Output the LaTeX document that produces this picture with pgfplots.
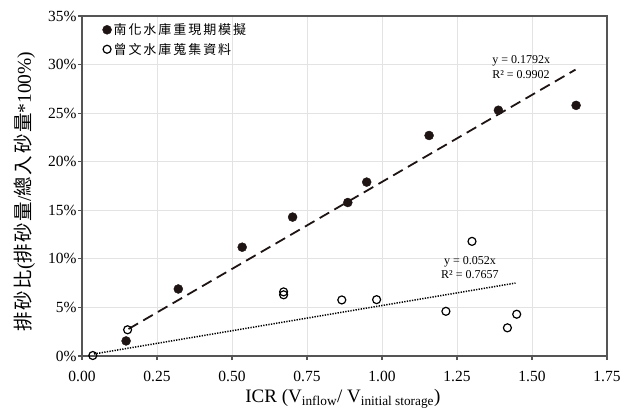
\documentclass[border=0pt]{standalone}
\usepackage{fontspec}
\setmainfont{Liberation Serif}
\newfontfamily\cjk[LetterSpace=8]{Noto Sans CJK TC}
\newfontfamily\cjkls[LetterSpace=15]{Noto Sans CJK TC}
\usepackage{pgfplots}
\pgfplotsset{compat=1.18}
\definecolor{framec}{HTML}{555555}
\definecolor{gridc}{HTML}{E3E3E3}
\definecolor{markc}{HTML}{1E1414}
\begin{document}
\begin{tikzpicture}
\begin{axis}[
  scale only axis, width=525bp, height=340bp,
  xmin=0, xmax=1.75, ymin=0, ymax=35,
  xtick={0,0.25,0.5,0.75,1,1.25,1.5,1.75},
  ytick={0,5,10,15,20,25,30,35},
  grid=major, major grid style={gridc, line width=0.8bp},
  axis line style={framec, line width=1.6bp},
  tick style={framec, line width=1.2bp},
  tick align=outside, major tick length=4bp,
  xtick pos=bottom, ytick pos=left,
  /pgf/number format/assume math mode=true,
  x tick label style={/pgf/number format/.cd, fixed, fixed zerofill, precision=2, assume math mode=true, /tikz/.cd, yshift=-8bp},
  y tick label style={xshift=2bp},
  yticklabel={\pgfmathprintnumber{\tick}\%},
  ticklabel style={font=\fontsize{15.5bp}{18bp}\selectfont},
  xlabel={ICR (V\textsubscript{inflow}/ V\textsubscript{initial storage})},
  xlabel style={font=\fontsize{19bp}{22bp}\selectfont, at={(axis description cs:0.497,-0.125)}, anchor=center},
  ylabel={{\cjk 排砂比}({\cjk 排砂量}/{\cjk 總入砂量}*100\%)},
  ylabel style={font=\fontsize{19.5bp}{22bp}\selectfont, at={(axis description cs:-0.109,0.484)}, anchor=center},
  legend style={at={(axis description cs:0.035,0.99)}, anchor=north west, draw=none, fill=none,
    font=\cjkls\fontsize{13bp}{15bp}\selectfont, row sep=3bp, inner sep=2bp},
  legend cell align=left,
  clip=false,
]
\addplot[markc, line width=1.8bp, dash pattern=on 11bp off 6bp, forget plot] coordinates {(0.155,2.78) (1.645,29.48)};
\addplot[black, line width=1.5bp, dash pattern=on 1.3bp off 1.3bp, forget plot] coordinates {(0.04,0.21) (1.445,7.51)};
\addplot[only marks, mark=*, mark size=4.5bp, color=markc,
  legend image code/.code={\draw[mark repeat=2,mark phase=2] plot coordinates {(0cm,0cm)(0.1cm,0cm)(0.2cm,0cm)};}]
coordinates {(0.147,1.55) (0.321,6.9) (0.534,11.2) (0.702,14.3) (0.886,15.8) (0.949,17.9) (1.157,22.7) (1.388,25.3) (1.647,25.8)};
\addlegendentry{南化水庫重現期模擬}
\addplot[only marks, mark=o, mark size=4bp, color=black, mark options={fill=white, line width=1.2bp},
  legend image code/.code={\draw[mark repeat=2,mark phase=2] plot coordinates {(0cm,0cm)(0.1cm,0cm)(0.2cm,0cm)};}]
coordinates {(0.036,0.05) (0.152,2.7) (0.672,6.6) (0.672,6.3) (0.866,5.77) (0.982,5.8) (1.213,4.6) (1.30,11.8) (1.418,2.9) (1.449,4.3)};
\addlegendentry{曾文水庫蒐集資料}
\node[anchor=north west, align=left, inner sep=0pt, font=\fontsize{12bp}{15bp}\selectfont] at (axis cs:1.367,31.0) {y = 0.1792x\\R² = 0.9902};
\node[anchor=north, align=center, inner sep=0pt, font=\fontsize{12bp}{14bp}\selectfont] at (axis cs:1.293,10.3) {y = 0.052x\\R² = 0.7657};
\coordinate (SW) at (rel axis cs:0,0);
\coordinate (NE) at (rel axis cs:1,1);
\end{axis}
\pgfresetboundingbox
\path[use as bounding box] ([shift={(-82bp,-56bp)}]SW) rectangle ([shift={(30bp,16bp)}]NE);
\end{tikzpicture}
\end{document}
